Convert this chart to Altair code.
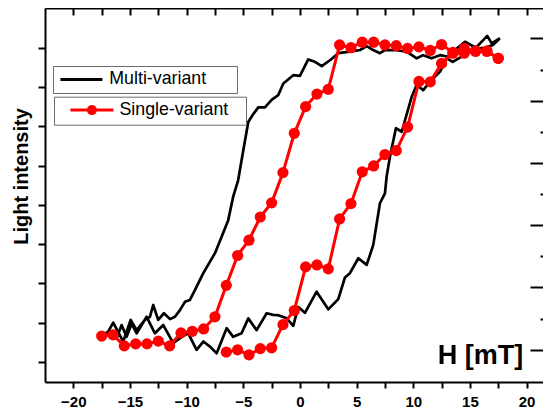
import altair as alt
import pandas as pd

# ---------------- data ----------------
# Multi-variant (black) loop: H [mT] and light intensity (arb. units)
multi_down_h = [17.65, 17.03, 16.24, 15.60, 14.56, 13.68, 13.09, 12.36, 11.62, 10.88,
                10.30, 9.42, 8.38, 7.50, 7.06, 6.47, 5.89, 5.30, 4.41, 3.38,
                2.65, 1.92, 1.32, 0.73, 0.00, -0.59, -1.47, -1.92, -2.50, -3.09,
                -3.68, -4.12, -4.56, -5.00, -5.45, -5.89, -6.33, -6.91, -7.50, -8.53,
                -9.27, -9.71, -10.15, -10.59, -11.03, -11.47, -12.00, -12.51, -12.95, -13.24,
                -13.68, -14.41, -14.94, -15.60, -16.48, -16.92, -17.30]
multi_down_i = [8.24, 8.07, 7.99, 7.99, 8.15, 7.94, 7.77, 7.81, 7.73, 7.81,
                7.73, 7.90, 7.94, 7.94, 7.86, 7.94, 8.04, 7.94, 7.90, 7.86,
                7.68, 7.53, 7.64, 7.70, 7.28, 7.30, 7.09, 6.79, 6.67, 6.48,
                6.48, 6.31, 6.11, 5.39, 4.63, 4.21, 3.61, 3.19, 2.77, 2.26,
                1.83, 1.58, 1.53, 1.32, 1.15, 1.09, 1.24, 1.07, 1.45, 1.15,
                1.07, 0.81, 1.07, 0.52, 1.00, 0.77, 0.71]
multi_up_h = [-17.30, -16.77, -16.18, -15.74, -15.30, -14.85, -14.41, -13.53, -12.80, -12.06,
              -11.18, -10.44, -9.86, -9.12, -8.53, -7.94, -7.35, -6.47, -5.89, -5.15,
              -4.56, -3.82, -2.94, -2.36, -1.92, -1.17, -0.59, -0.15, 0.44, 1.47,
              2.50, 3.38, 3.97, 4.41, 5.15, 5.89, 6.47, 7.06, 7.50, 7.65,
              7.94, 8.47, 8.98, 9.86, 10.30, 10.88, 11.47, 12.36, 12.95, 13.48,
              14.50, 15.60, 16.53, 16.92, 17.65]
multi_up_i = [0.71, 0.77, 0.60, 0.94, 0.64, 0.97, 0.73, 1.15, 0.73, 0.94,
              0.48, 0.64, 0.73, 0.31, 0.52, 0.39, 0.22, 0.86, 0.64, 0.73,
              1.11, 0.81, 1.24, 1.20, 1.19, 1.11, 0.92, 1.40, 1.25, 1.79,
              1.34, 1.60, 2.15, 2.26, 2.64, 2.47, 2.98, 4.04, 4.29, 4.72,
              5.22, 5.95, 5.86, 6.75, 7.05, 6.92, 7.13, 7.39, 7.73, 7.64,
              7.81, 8.02, 8.30, 8.11, 8.24]

# Single-variant (red) loop
single_down_h = [17.5, 16.5, 15.5, 14.5, 13.5, 12.5, 11.5, 10.5, 9.5, 8.5,
                 7.5, 6.5, 5.5, 4.5, 3.5, 2.5, 1.5, 0.5, -0.5, -1.5,
                 -2.5, -3.5, -4.5, -5.5, -6.5, -7.5, -8.5, -9.5, -10.5, -11.5,
                 -12.5, -13.5, -14.5, -15.5, -16.5, -17.5]
single_down_i = [7.73, 7.91, 7.91, 7.98, 7.88, 8.08, 7.93, 8.02, 7.98, 8.05,
                 8.07, 8.14, 8.14, 8.00, 8.07, 6.94, 6.82, 6.50, 5.82, 4.82,
                 4.05, 3.69, 3.10, 2.71, 1.95, 1.15, 0.84, 0.78, 0.74, 0.41,
                 0.53, 0.46, 0.46, 0.41, 0.69, 0.66]
single_up_h = [-6.5, -5.5, -4.5, -3.5, -2.5, -1.5, -0.5, 0.5, 1.5, 2.5,
               3.5, 4.5, 5.5, 6.5, 7.5, 8.5, 9.5, 10.5, 11.5, 12.5,
               13.5, 14.5, 15.5, 16.5, 17.5]
single_up_i = [0.25, 0.31, 0.18, 0.34, 0.36, 0.95, 1.31, 2.42, 2.47, 2.37,
               3.64, 4.03, 4.84, 4.99, 5.28, 5.38, 5.98, 7.14, 7.13, 7.60,
               7.86, 7.86, 7.91, 7.91, 7.73]

series_names = ["Multi-variant", "Single-variant"]
series_colors = ["#000000", "#ff0000"]

x_ticks = [-20, -17.5, -15, -12.5, -10, -7.5, -5, -2.5, 0, 2.5, 5, 7.5, 10, 12.5, 15, 17.5, 20]
left_ticks = [0, 1, 2, 3, 4, 5, 6, 7, 8]
right_major = [0.31, 1.9, 3.49, 5.06, 6.64, 8.24]
right_minor = [1.1, 2.69, 4.27, 5.85, 7.44]

# ---------------- tables ----------------
multi = pd.DataFrame({
    "H": multi_down_h + multi_up_h,
    "I": multi_down_i + multi_up_i,
})
multi["order"] = range(len(multi))
multi["series"] = series_names[0]

single = pd.DataFrame({
    "H": single_down_h + single_up_h,
    "I": single_down_i + single_up_i,
    "branch": ["down"] * len(single_down_h) + ["up"] * len(single_up_h),
})
single["order"] = range(len(single))
single["series"] = series_names[1]

W, H = 498, 374
FONT = "Liberation Sans"
FILL = "\u2800"

x_scale = alt.Scale(domain=[-22.5, 21.45], nice=False, zero=False)
y_scale = alt.Scale(domain=[-0.51, 9.01], nice=False, zero=False)

line_path = "M-3,0H3"
dot_path = ("M-3.07,0H3.07"
            "M0.5,0A0.5,0.5,0,1,1,-0.5,0A0.5,0.5,0,1,1,0.5,0"
            "M0.21,0A0.21,0.21,0,1,1,-0.21,0A0.21,0.21,0,1,1,0.21,0")

black = alt.Chart(multi).mark_line(strokeWidth=2.7, strokeJoin="round").encode(
    x=alt.X("H:Q", scale=x_scale,
            axis=alt.Axis(orient="bottom", values=x_ticks,
                          labelExpr="datum.value % 5 == 0 ? datum.label : ''",
                          labelFontSize=15, labelFontWeight="bold", labelColor="black",
                          labelPadding=6, tickSize=6,
                          title="H [mT]", titleFontSize=27, titleFontWeight="bold",
                          titleColor="black", titleX=435, titleY=-19,
                          titleAlign="center", titleBaseline="alphabetic")),
    y=alt.Y("I:Q", scale=y_scale,
            axis=alt.Axis(orient="left", values=left_ticks, labels=False, tickSize=7,
                          title="Light intensity", titleFontSize=20, titleFontWeight="bold",
                          titleColor="black", titleAngle=270, titleX=-17.5, titleY=168,
                          titleAlign="center", titleBaseline="alphabetic")),
    order="order:Q",
    color=alt.Color("series:N",
                    scale=alt.Scale(domain=[series_names[0]], range=[series_colors[0]]),
                    legend=alt.Legend(title=None, orient="none", legendX=8, legendY=58,
                                      symbolType=line_path, symbolSize=196,
                                      symbolStrokeWidth=3, symbolStrokeColor="black",
                                      symbolOffset=15,
                                      labelFont=FONT, labelFontSize=17.8, labelColor="black",
                                      labelOffset=19, padding=4.5,
                                      labelExpr="datum.label + '" + FILL * 2 + "'",
                                      strokeColor="#6b6b6b", fillColor="white")),
)

red = alt.Chart(single).mark_line(
    strokeWidth=3, strokeJoin="round",
    point=alt.OverlayMarkDef(filled=True, size=125, opacity=1)
).encode(
    x=alt.X("H:Q", scale=x_scale,
            axis=alt.Axis(orient="bottom", offset=-H, values=x_ticks, labels=False,
                          tickSize=7, title=None)),
    y=alt.Y("I:Q", scale=y_scale,
            axis=alt.Axis(orient="left", offset=-W, values=right_major + right_minor,
                          labels=False, domain=False, title=None,
                          tickSize={"condition": {"test": "indexof(" + str(right_major) + ", datum.value) >= 0",
                                                  "value": 13}, "value": 3})),
    detail="branch:N",
    order="order:Q",
    color=alt.Color("series:N",
                    scale=alt.Scale(domain=[series_names[1]], range=[series_colors[1]]),
                    legend=alt.Legend(title=None, orient="none", legendX=9, legendY=88.7,
                                      symbolType=dot_path, symbolSize=196,
                                      symbolStrokeWidth=3, symbolStrokeColor="#ff0000",
                                      symbolFillColor="#ff0000",
                                      symbolOffset=24.5,
                                      labelFont=FONT, labelFontSize=17.8, labelColor="black",
                                      labelOffset=18.7, padding=4.5,
                                      labelExpr="datum.label + '" + FILL * 1 + "'",
                                      strokeColor="#6b6b6b", fillColor="white")),
)

chart = alt.layer(black, red).resolve_scale(
    color="independent"
).resolve_axis(
    x="independent", y="independent"
).properties(
    width=W, height=H,
    padding={"left": 37, "top": 0, "right": 0, "bottom": 26},
    autosize=alt.AutoSizeParams(type="none"),
    background="white",
).configure_view(
    stroke=None
).configure_axis(
    domainColor="black", domainWidth=2, tickColor="black", tickWidth=2, grid=False,
    labelFont=FONT, titleFont=FONT
).configure_legend(
    cornerRadius=0
)

chart.save("out.html", embed_options={"renderer": "svg", "actions": False})
